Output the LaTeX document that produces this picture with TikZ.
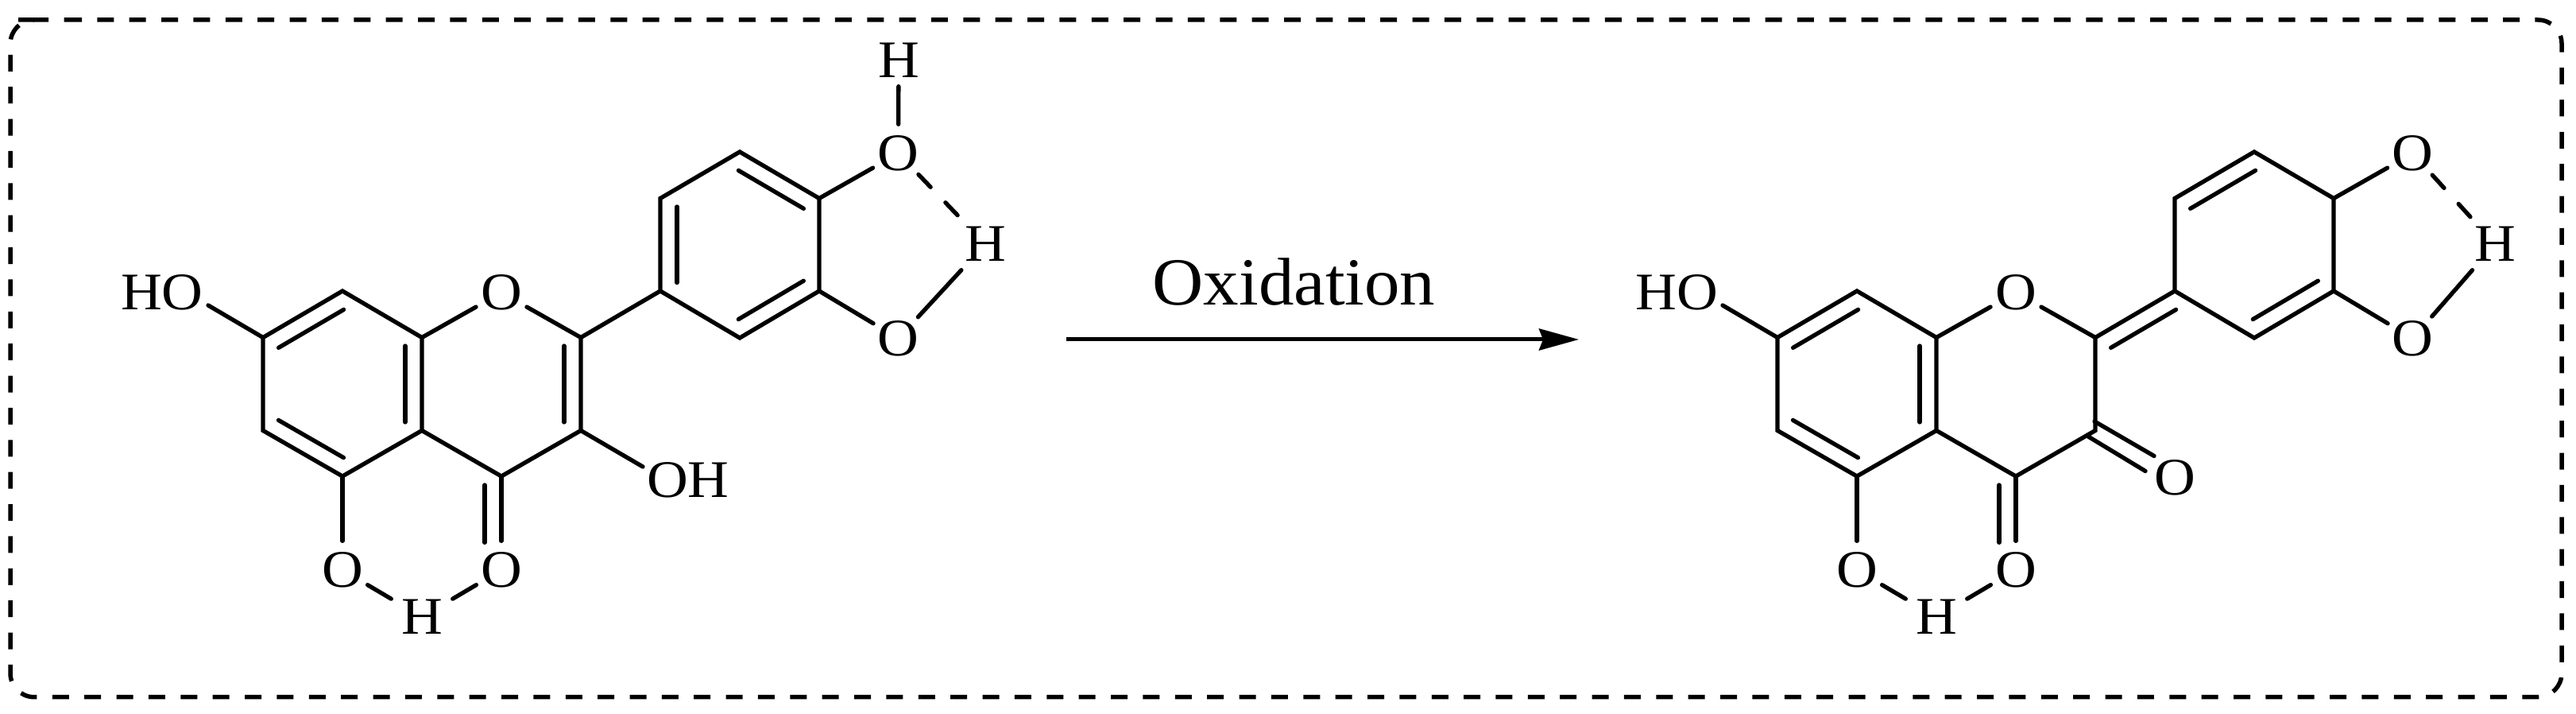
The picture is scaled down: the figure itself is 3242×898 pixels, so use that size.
\documentclass[tikz,border=0pt]{standalone}
\usepackage{fontspec}
\setmainfont[FakeStretch=1.08]{Liberation Serif}
\newfontfamily\captionfont[FakeStretch=1.05]{Liberation Serif}
\usetikzlibrary{calc}
\usetikzlibrary{arrows.meta}
\tikzset{
 bond/.style={black, line width=.53mm, line cap=round},
 atomfont/.style={font=\fontsize{18.9}{20}\selectfont},
 atomh/.style={atomfont, inner sep=0, minimum width=7.6mm, minimum height=6.4mm},
 atomo/.style={atomfont, circle, inner sep=0, minimum size=7.2mm},
 group/.style={atomfont, inner sep=0},
}
% second line of a double bond, on the left hand of #1 -> #2
\newcommand{\innerbond}[2]{
 \draw[bond] ($(#1)!.09!(#2)!2.1mm!90:(#2)$) -- ($(#1)!.91!(#2)!2.1mm!-90:(#1)$);
}
\begin{document}
\begin{tikzpicture}[x=.1mm, y=-.1mm]
\useasboundingbox (0,0) rectangle (3242,898);
% dashed frame
\draw[black, line width=.55mm, rounded corners=3mm, dash pattern=on 2.1mm off 1.937mm]
 (52,25) -- (3224,25) -- (3224,876.7) -- (13,876.7) -- (13,25) -- cycle;
% both molecules share the same skeleton
\foreach \m/\s/\hx in {l/0/1240, r/1906/1234} {
\begin{scope}[shift={(\s,0)}]
 \coordinate (c7\m) at (331,424.5);
 \coordinate (c8\m) at (431,366);
 \coordinate (c8a\m) at (531,424.5);
 \coordinate (c4a\m) at (531,541.5);
 \coordinate (c5\m) at (431,599);
 \coordinate (c6\m) at (331,541.5);
 \coordinate (c2\m) at (731,424.5);
 \coordinate (c3\m) at (731,541.5);
 \coordinate (c4\m) at (631,599);
 \coordinate (c1p\m) at (831,366);
 \coordinate (c2p\m) at (831,249.5);
 \coordinate (c3p\m) at (931,191);
 \coordinate (c4p\m) at (1031,249.5);
 \coordinate (c5p\m) at (1031,366);
 \coordinate (c6p\m) at (931,425);
 \coordinate (hoe\m) at (262,384);
 \node[group] (ho\m) at (204,368) {HO};
 \node[atomo] (o1\m) at (631,368) {O};
 \node[atomo] (o5\m) at (431,717) {O};
 \node[atomo] (o4\m) at (631,717) {O};
 \node[atomh] (h5\m) at (531,776) {H};
 \node[atomo] (o3p\m) at (1130.5,193) {O};
 \node[atomo] (o4p\m) at (1130.5,425.7) {O};
 \node[atomh] (hb\m) at (\hx,307) {H};
 \draw[bond] (c7\m) -- (c8\m) -- (c8a\m) -- (c4a\m) -- (c5\m) -- (c6\m) -- cycle;
 \draw[bond] (c2p\m) -- (c3p\m) -- (c4p\m) -- (c5p\m) -- (c6p\m) -- (c1p\m) -- cycle;
 \draw[bond] (c4a\m) -- (c4\m) -- (c3\m) -- (c2\m);
 \draw[bond] (c7\m) -- (hoe\m);
 \draw[bond] (c8a\m) -- (o1\m);
 \draw[bond] (c2\m) -- (o1\m);
 \draw[bond] (c2\m) -- (c1p\m);
 \draw[bond] (c5\m) -- (o5\m);
 \draw[bond] (c4\m) -- (o4\m);
 \draw[bond] ($(c4\m)+(-21,11)$) -- ($(o4\m.north)+(-21,2)$);
 \draw[bond] (o5\m) -- (h5\m);
 \draw[bond] (o4\m) -- (h5\m);
 \draw[bond] (c4p\m) -- (o3p\m);
 \draw[bond] (c5p\m) -- (o4p\m);
 \draw[bond, dash pattern=on 2.2mm off 2.7mm] (o3p\m) -- (hb\m);
 \draw[bond] (o4p\m) -- (hb\m);
 \innerbond{c8\m}{c7\m}
 \innerbond{c6\m}{c5\m}
 \innerbond{c4a\m}{c8a\m}
 \innerbond{c6p\m}{c5p\m}
\end{scope}
}
% left molecule only
\node[group] (oh3l) at (866,604) {OH};
\coordinate (ohe3l) at (809,587);
\node[atomh] (hal) at (1131,76) {H};
\draw[bond] (c3l) -- (ohe3l);
\draw[bond] (o3pl) -- (hal);
\innerbond{c3l}{c2l}
\innerbond{c2pl}{c1pl}
\innerbond{c4pl}{c3pl}
% right molecule only
\node[atomo] (o3r) at (2737,600.5) {O};
\draw[bond] ($(c3r)+(-1,-11.5)$) -- ($(o3r)+(-26,-27)$);
\draw[bond] ($(c3r)+(-9,7.5)$) -- ($(o3r)+(-37,-8)$);
\innerbond{c1pr}{c2r}
\innerbond{c3pr}{c2pr}
% reaction arrow
\coordinate (arrowa) at (1342,427);
\coordinate (arrowb) at (1987,427);
\node[font=\captionfont\fontsize{24.1}{26}\selectfont, inner sep=0] (oxlabel) at (1628.5,355) {Oxidation};
\draw[black, line width=.5mm, -{Stealth[length=5mm, width=2.7mm, inset=.5mm]}] (arrowa) -- (arrowb);
\end{tikzpicture}
\end{document}
